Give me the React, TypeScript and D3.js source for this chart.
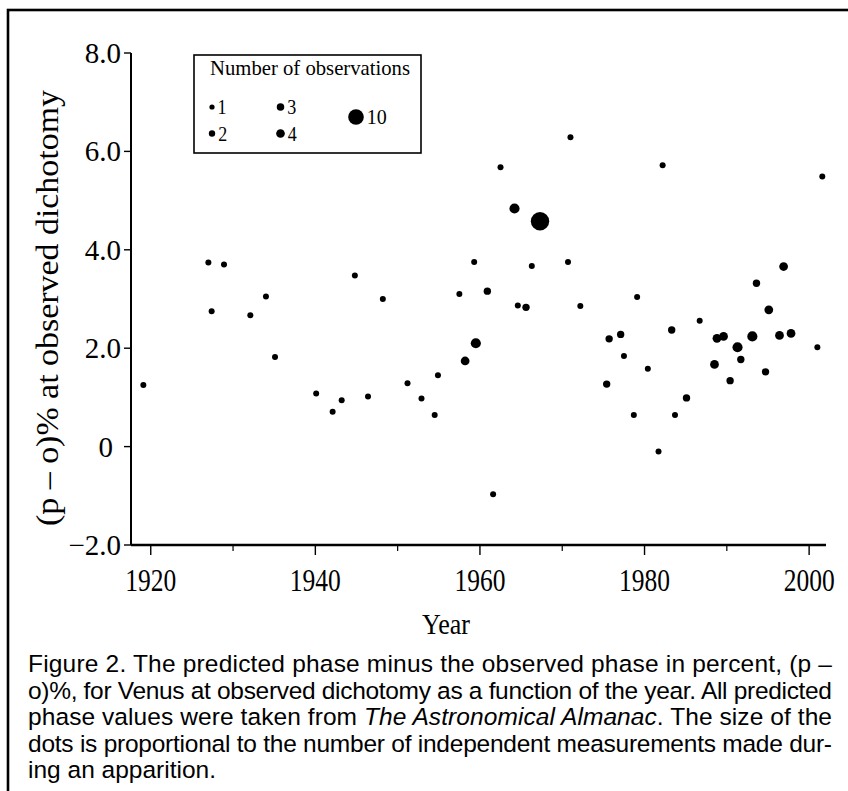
import React, { useEffect } from 'react';
import * as d3 from 'd3';

// ---- data ----
const years = [
  1919.1, 1927.0, 1927.4, 1928.9, 1932.1, 1934.0, 1935.1, 1940.1, 1942.1, 1943.2,
  1944.8, 1946.4, 1948.2, 1951.2, 1952.9, 1954.5, 1954.9, 1957.5, 1958.2, 1959.3,
  1959.5, 1960.9, 1961.6, 1962.5, 1964.2, 1964.6, 1965.6, 1966.3, 1967.3, 1970.7,
  1971.0, 1972.2, 1975.4, 1975.7, 1977.1, 1977.5, 1978.7, 1979.1, 1980.4, 1981.7,
  1982.2, 1983.3, 1983.7, 1985.1, 1986.7, 1988.5, 1988.8, 1989.6, 1990.4, 1991.3,
  1991.7, 1993.1, 1993.6, 1994.7, 1995.1, 1996.4, 1996.9, 1997.8, 2001.0, 2001.6,
];
const values = [
  1.25, 3.74, 2.75, 3.70, 2.67, 3.05, 1.82, 1.08, 0.71, 0.94,
  3.48, 1.02, 3.00, 1.29, 0.98, 0.64, 1.45, 3.10, 1.74, 3.75,
  2.10, 3.16, -0.97, 5.68, 4.84, 2.87, 2.83, 3.67, 4.58, 3.75,
  6.29, 2.86, 1.27, 2.19, 2.28, 1.84, 0.64, 3.04, 1.58, -0.10,
  5.72, 2.37, 0.64, 0.99, 2.56, 1.67, 2.20, 2.24, 1.34, 2.02,
  1.77, 2.24, 3.32, 1.52, 2.78, 2.26, 3.66, 2.30, 2.02, 5.49,
];
const counts = [
  1, 1, 1, 1, 1, 1, 1, 1, 1, 1,
  1, 1, 1, 1, 1, 1, 1, 1, 3, 1,
  4, 2, 1, 1, 4, 1, 2, 1, 10, 1,
  1, 1, 2, 2, 2, 1, 1, 1, 1, 1,
  1, 2, 1, 2, 1, 3, 3, 3, 2, 4,
  2, 4, 2, 2, 3, 3, 3, 3, 1, 1,
];
const xMajorTicks = [1920, 1940, 1960, 1980, 2000];
const xMinorTicks = [1930, 1950, 1970, 1990];
const yTicks = [-2, 0, 2, 4, 6, 8];
const yTickLabels = ['\u22122.0', '0', '2.0', '4.0', '6.0', '8.0'];
const legendCounts = [1, 2, 3, 4, 10];
const legendTitle = 'Number of observations';
const xTitle = 'Year';
const yTitle = '(p \u2013 o)% at observed dichotomy';
const captionLines = [
  [{ t: 'Figure 2. The predicted phase minus the observed phase in percent, (p \u2013', i: false }],
  [{ t: 'o)%, for Venus at observed dichotomy as a function of the year.  All predicted', i: false }],
  [
    { t: 'phase values were taken from ', i: false },
    { t: 'The Astronomical Almanac', i: true },
    { t: '.  The size of the', i: false },
  ],
  [{ t: 'dots is proportional to the number of independent measurements made dur-', i: false }],
  [{ t: 'ing an apparition.', i: false }],
];

const SERIF = "'Liberation Serif', 'Times New Roman', serif";
const SANS = "'Liberation Sans', Arial, sans-serif";

export default function App() {
  useEffect(() => {
    document.body.style.margin = '0';
    document.body.style.overflow = 'hidden';
  }, []);

  const W = 848;
  const H = 791;
  const x = d3.scaleLinear().domain([1917.6, 2002.05]).range([131, 826]);
  const y = d3.scaleLinear().domain([-2, 8]).range([545, 53]);
  const r = d3.scaleLinear().domain([1, 10]).range([3, 9.2]);
  const rLegend = d3.scaleLinear().domain([1, 10]).range([2.6, 7.8]);

  const [x0, x1] = x.range();
  const [yB, yT] = y.range();

  const points = years.map((yr, i) => ({ yr, v: values[i], n: counts[i] }));

  // legend layout: columns of small counts, then the big one
  const legendPos = (n: number, i: number) => {
    if (n === 10) return { cx: 356, cy: 117 };
    const col = Math.floor(i / 2);
    const row = i % 2;
    return { cx: 212 + col * 68.5, cy: 107 + row * 26.5 };
  };

  const capX = 28;
  const capRight = 832;
  const capBase = 672;
  const capStep = 26.6;

  return (
    <svg width={W} height={H} style={{ position: 'absolute', left: 0, top: 0, background: '#fff' }}>
      <rect x={0} y={0} width={W} height={H} fill="#fff" />
      {/* outer frame (continues past the right and bottom edges) */}
      <rect x={8} y={10} width={W + 40} height={H + 40} fill="none" stroke="#000" strokeWidth={2.6} />

      {/* axes */}
      <line x1={x0} x2={x1} y1={yB} y2={yB} stroke="#000" strokeWidth={2.6} />
      <line x1={x0} x2={x0} y1={yT} y2={yB} stroke="#000" strokeWidth={2} />

      {xMajorTicks.map((t) => (
        <g key={'xt' + t}>
          <line x1={x(t)} x2={x(t)} y1={yB} y2={yB + 10} stroke="#000" strokeWidth={1.4} />
          <text
            x={x(t)}
            y={591}
            textAnchor="middle"
            fontFamily={SERIF}
            fontSize={32}
            textLength={51}
            lengthAdjust="spacingAndGlyphs"
          >
            {String(t)}
          </text>
        </g>
      ))}
      {xMinorTicks.map((t) => (
        <line key={'xm' + t} x1={x(t)} x2={x(t)} y1={yB} y2={yB + 6} stroke="#000" strokeWidth={1.2} />
      ))}

      {yTicks.map((t, i) => (
        <g key={'yt' + t}>
          <line x1={x0 - 7} x2={x0} y1={y(t)} y2={y(t)} stroke="#000" strokeWidth={1.4} />
          <text
            x={t === 0 ? 113 : 121}
            y={y(t) + 10}
            textAnchor="end"
            fontFamily={SERIF}
            fontSize={29}
          >
            {yTickLabels[i]}
          </text>
        </g>
      ))}

      <text
        x={446}
        y={634}
        textAnchor="middle"
        fontFamily={SERIF}
        fontSize={30}
        textLength={48}
        lengthAdjust="spacingAndGlyphs"
      >
        {xTitle}
      </text>
      <text
        transform={`translate(58, ${308}) rotate(-90)`}
        textAnchor="middle"
        fontFamily={SERIF}
        fontSize={31}
        textLength={436}
        lengthAdjust="spacingAndGlyphs"
      >
        {yTitle}
      </text>

      {/* legend */}
      <rect x={194} y={55} width={227} height={98} fill="#fff" stroke="#000" strokeWidth={1.6} />
      <text
        x={210}
        y={75}
        fontFamily={SERIF}
        fontSize={22}
        textLength={200}
        lengthAdjust="spacingAndGlyphs"
      >
        {legendTitle}
      </text>
      {legendCounts.map((n, i) => {
        const p = legendPos(n, i);
        const rr = rLegend(n);
        return (
          <g key={'lg' + n}>
            <circle cx={p.cx} cy={p.cy} r={rr} fill="#000" />
            <text
              x={p.cx + rr + 3}
              y={p.cy + 7}
              fontFamily={SERIF}
              fontSize={n === 10 ? 22 : 20}
              textLength={n === 10 ? 20 : 9}
              lengthAdjust="spacingAndGlyphs"
            >
              {String(n)}
            </text>
          </g>
        );
      })}

      {/* points */}
      {points.map((p, i) => (
        <circle key={'p' + i} cx={x(p.yr)} cy={y(p.v)} r={r(p.n)} fill="#000" />
      ))}

      {/* caption */}
      {captionLines.map((line, li) => {
        const last = li === captionLines.length - 1;
        return (
          <text
            key={'c' + li}
            x={capX}
            y={capBase + li * capStep}
            fontFamily={SANS}
            fontSize={24.5}
            {...(last ? {} : { textLength: capRight - capX, lengthAdjust: 'spacing' })}
          >
            {line.map((s, si) => (
              <tspan key={si} fontStyle={s.i ? 'italic' : 'normal'}>
                {s.t}
              </tspan>
            ))}
          </text>
        );
      })}
    </svg>
  );
}
